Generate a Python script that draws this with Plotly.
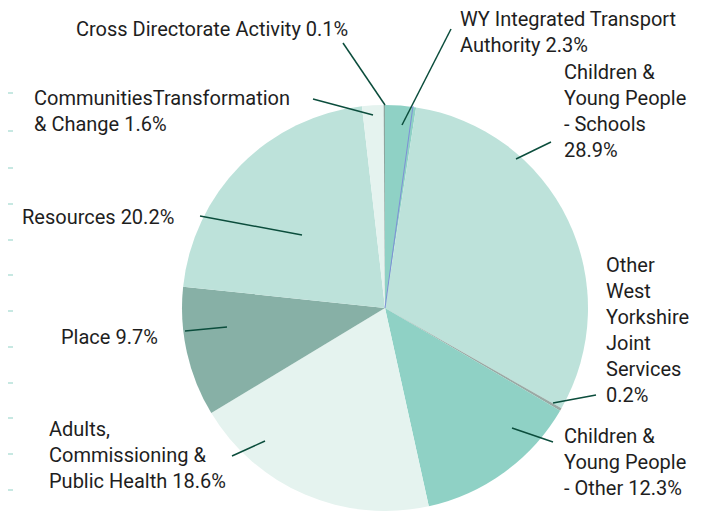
import plotly.graph_objects as go

# ---- data ----
labels = [
    "WY Integrated Transport Authority",
    "Children & Young People - Schools",
    "Other West Yorkshire Joint Services",
    "Children & Young People - Other",
    "Adults, Commissioning & Public Health",
    "Place",
    "Resources",
    "CommunitiesTransformation & Change",
    "Cross Directorate Activity",
]
values = [2.3, 28.9, 0.2, 12.3, 18.6, 9.7, 20.2, 1.6, 0.1]
label_text = [
    "WY Integrated Transport<br>Authority 2.3%",
    "Children &<br>Young People<br>- Schools<br>28.9%",
    "Other<br>West<br>Yorkshire<br>Joint<br>Services<br>0.2%",
    "Children &<br>Young People<br>- Other 12.3%",
    "Adults,<br>Commissioning &<br>Public Health 18.6%",
    "Place 9.7%",
    "Resources 20.2%",
    "CommunitiesTransformation<br>& Change 1.6%",
    "Cross Directorate Activity 0.1%",
]
colors = ["#8fd1c5", "#bde2da", "#9aaaa5", "#8fd1c5", "#e5f3ef",
          "#87b0a6", "#bde2da", "#e5f3ef", "#8da69f"]

# ---- layout helpers (page pixel positions of labels and leader lines) ----
PW, PH = 715, 511          # page size
OFF = 8                    # default body margin of the html page
W, H = PW - OFF, PH - OFF  # figure size
cx, cy, R = 385, 308, 203
text_pos = [
    (459, 32),
    (563, 111),
    (605, 330),
    (563, 462),
    (48, 455),
    (60, 337),
    (21, 217),
    (33, 111),
    (75, 29),
]
leaders = [
    (451, 29, 402, 125),
    (551, 142, 516, 159),
    (596, 395, 553, 403),
    (553, 442, 512, 428),
    (232, 456, 265, 441),
    (185, 331, 227, 327),
    (200, 216, 302, 235),
    (313, 99, 373, 115),
    (343, 43, 385, 105),
]
side_lines_y = [93, 131, 168, 204, 240, 275, 311, 347, 383, 418, 454, 490]

fig = go.Figure()
fig.add_trace(go.Pie(
    labels=labels, values=values, sort=False, direction="clockwise",
    rotation=0, textinfo="none", hoverinfo="label+percent",
    marker=dict(colors=colors, line=dict(width=0)),
    domain=dict(x=[(cx - R - OFF) / W, (cx + R - OFF) / W],
                y=[(PH - cy - R) / H, (PH - cy + R) / H]),
    showlegend=False,
))

# invisible axes in page-pixel space for decorations
fig.update_xaxes(range=[OFF, PW], visible=False, fixedrange=True)
fig.update_yaxes(range=[PH, OFF], visible=False, fixedrange=True)

shapes = []
for (x0, y0, x1, y1) in leaders:
    shapes.append(dict(type="line", xref="x", yref="y", x0=x0, y0=y0, x1=x1, y1=y1,
                       line=dict(color="#0b4d3c", width=1.5)))
# blue hairline on the WY/Schools border
shapes.append(dict(type="line", xref="x", yref="y", x0=cx, y0=cy, x1=413, y1=106,
                   line=dict(color="#7d8fd6", width=1)))
for y in side_lines_y:
    shapes.append(dict(type="line", xref="x", yref="y", x0=OFF, y0=y, x1=13, y1=y,
                       line=dict(color="#8fd1c5", width=1)))

annotations = []
for txt, (x, y) in zip(label_text, text_pos):
    annotations.append(dict(x=x, y=y, xref="x", yref="y", text=txt, showarrow=False,
                            xanchor="left", yanchor="middle", align="left",
                            borderpad=0,
                            font=dict(family="Roboto", size=20, color="#1e1e1e")))

fig.update_layout(
    width=W, height=H, margin=dict(l=0, r=0, t=0, b=0),
    paper_bgcolor="white", plot_bgcolor="rgba(0,0,0,0)",
    shapes=shapes, annotations=annotations,
)
fig.write_html("out.html")
